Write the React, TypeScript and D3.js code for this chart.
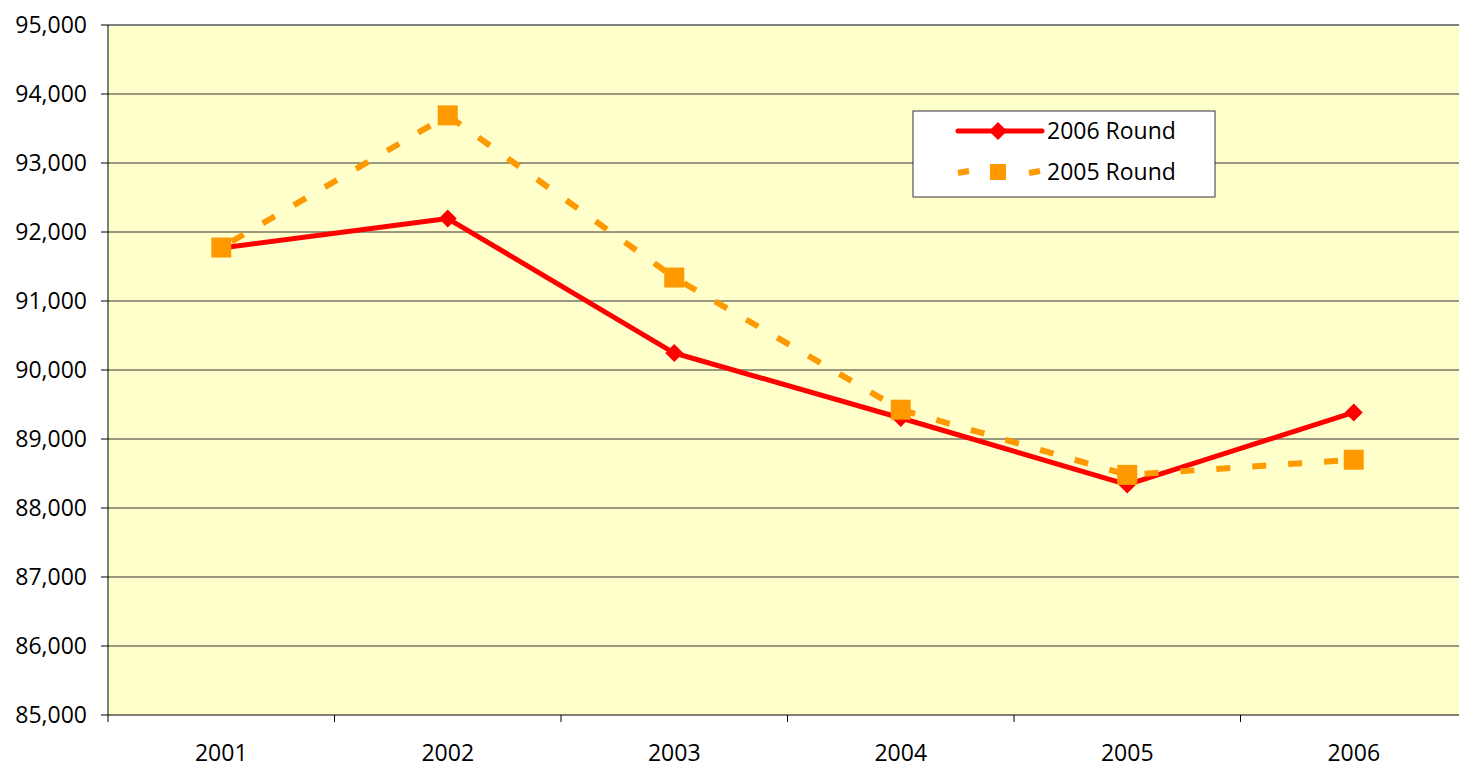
import React from "react";
import * as d3 from "d3";

const years = ["2001", "2002", "2003", "2004", "2005", "2006"];
const round2006 = [91768, 92195, 90246, 89304, 88340, 89385];
const round2005 = [91775, 93690, 91340, 89425, 88480, 88700];
const yTicks = [85000, 86000, 87000, 88000, 89000, 90000, 91000, 92000, 93000, 94000, 95000];
const seriesNames = ["2006 Round", "2005 Round"];

const W = 1459;
const H = 764;
const left = 108;
const right = 1467;
const top = 25;
const bottom = 715;
const FONT = "'Open Sans', 'DejaVu Sans', sans-serif";

export default function App() {
  const x = d3.scaleBand<string>().domain(years).range([left, right]).padding(0);
  const y = d3.scaleLinear().domain([85000, 95000]).range([bottom, top]);
  const cx = (d: string) => (x(d) as number) + x.bandwidth() / 2;
  const line = d3
    .line<number>()
    .x((_, i) => cx(years[i]))
    .y((v) => y(v));
  const boundaries = d3.range(years.length + 1).map((i) => left + i * x.bandwidth());
  const diamond = (px: number, py: number, r: number) =>
    `M${px},${py - r}L${px + r},${py}L${px},${py + r}L${px - r},${py}Z`;

  const lgX = 913, lgY = 111, lgW = 302, lgH = 86;
  const row1 = 131, row2 = 172;

  return (
    <svg
      width={W}
      height={H}
      style={{ position: "absolute", left: 0, top: 0, display: "block" }}
      fontFamily={FONT}
    >
      <rect x={0} y={0} width={W} height={H} fill="#ffffff" />
      <rect x={left} y={top} width={right - left} height={bottom - top} fill="#FFFFCC" />
      {yTicks.slice(1, -1).map((t) => (
        <line key={t} x1={left} x2={right} y1={y(t)} y2={y(t)} stroke="#333" strokeWidth={1} />
      ))}
      <line x1={left} x2={right} y1={y(95000)} y2={y(95000)} stroke="#808080" strokeWidth={2} />
      {/* axes */}
      <line x1={left} x2={left} y1={top} y2={bottom} stroke="#000" strokeWidth={1} />
      <line x1={left} x2={right} y1={bottom} y2={bottom} stroke="#000" strokeWidth={1} />
      {yTicks.map((t) => (
        <g key={t}>
          <line x1={left - 7} x2={left} y1={y(t)} y2={y(t)} stroke="#000" />
          <text x={87} y={y(t)} dy="0.35em" textAnchor="end" fontSize={23} fill="#000">
            {d3.format(",")(t)}
          </text>
        </g>
      ))}
      {boundaries.map((b, i) => (
        <line key={i} x1={b} x2={b} y1={bottom} y2={bottom + 7} stroke="#000" />
      ))}
      {years.map((yr) => (
        <text key={yr} x={cx(yr)} y={761} textAnchor="middle" fontSize={23} fill="#000">
          {yr}
        </text>
      ))}
      {/* 2006 Round */}
      <path d={line(round2006) || ""} fill="none" stroke="#FF0000" strokeWidth={5} strokeLinejoin="round" />
      {round2006.map((v, i) => (
        <path key={i} d={diamond(cx(years[i]), y(v), 9)} fill="#FF0000" />
      ))}
      {/* 2005 Round */}
      <path
        d={line(round2005) || ""}
        fill="none"
        stroke="#FF9900"
        strokeWidth={6}
        strokeDasharray="14,22"
        strokeDashoffset={-12}
      />
      {round2005.map((v, i) => (
        <rect key={i} x={cx(years[i]) - 10} y={y(v) - 10} width={20} height={20} fill="#FF9900" />
      ))}
      {/* legend */}
      <rect x={lgX} y={lgY} width={lgW} height={lgH} fill="#ffffff" stroke="#333" strokeWidth={1} />
      <line x1={958} x2={1042} y1={row1} y2={row1} stroke="#FF0000" strokeWidth={5} strokeLinecap="round" />
      <path d={diamond(998, row1, 9)} fill="#FF0000" />
      <line x1={958} x2={969} y1={row2 + 1} y2={row2 - 1} stroke="#FF9900" strokeWidth={6} />
      <line x1={1029} x2={1040} y1={row2 + 1} y2={row2 - 1} stroke="#FF9900" strokeWidth={6} />
      <rect x={990} y={row2 - 8} width={16} height={16} fill="#FF9900" />
      <text x={1047} y={row1} dy="0.35em" fontSize={23} fill="#000">{seriesNames[0]}</text>
      <text x={1047} y={row2} dy="0.35em" fontSize={23} fill="#000">{seriesNames[1]}</text>
    </svg>
  );
}
